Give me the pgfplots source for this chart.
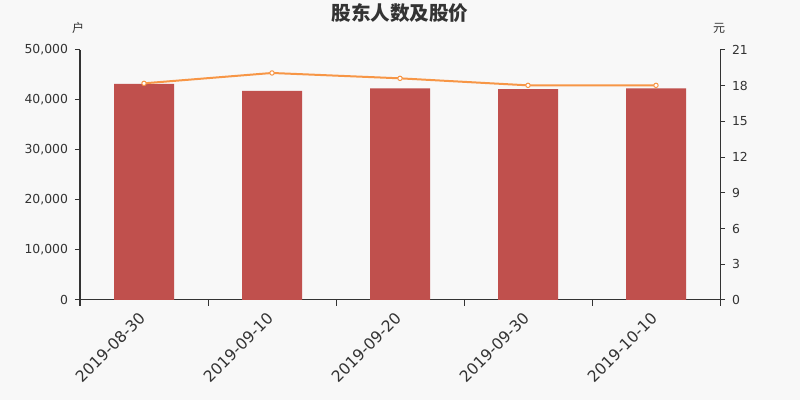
\documentclass[border=0pt]{standalone}
\usepackage{fontspec}
\setmainfont{DejaVu Sans}
\newfontfamily\cjk{Noto Sans CJK SC}
\usepackage{pgfplots}
\pgfplotsset{compat=1.18}
\definecolor{bg}{HTML}{F8F8F8}
\definecolor{barred}{HTML}{C0504D}
\definecolor{lineor}{HTML}{F79646}
\definecolor{axc}{HTML}{333333}
\begin{document}
\begin{tikzpicture}
\fill[bg] (-40pt,-50pt) rectangle (360pt,150pt);
\begin{axis}[
  at={(0,0)}, anchor=south west,
  scale only axis, width=320pt, height=125pt,
  xmin=-0.5, xmax=4.5, ymin=0, ymax=50000,
  axis x line*=bottom, axis y line*=left,
  axis line style={axc, line width=0.5pt, -},
  xtick={0,1,2,3,4},
  xticklabels={2019-08-30,2019-09-10,2019-09-20,2019-09-30,2019-10-10},
  minor xtick={-0.5,0.5,1.5,2.5,3.5,4.5},
  major x tick style={draw=none},
  minor tick length=3pt,
  tick align=outside,
  tick style={axc, line width=0.5pt},
  x tick label style={rotate=45, anchor=north east, font=\fontsize{7.8}{8}\selectfont, text=axc, inner sep=1pt, yshift=1pt, xshift=-3pt},
  ytick={0,10000,20000,30000,40000,50000},
  y tick label style={font=\fontsize{6.2}{7}\selectfont, text=axc},
  major tick length=2.5pt,
  scaled y ticks=false,
  /pgf/number format/assume math mode=true,
  yticklabel style={/pgf/number format/.cd, fixed, 1000 sep={,}},
  clip=false,
]
\addplot[ybar, bar width=30pt, fill=barred, draw=none] coordinates {
 (0,43200) (1,41800) (2,42300) (3,42150) (4,42300)};
\end{axis}
\begin{axis}[
  at={(0,0)}, anchor=south west,
  scale only axis, width=320pt, height=125pt,
  xmin=-0.5, xmax=4.5, ymin=0, ymax=21,
  axis x line=none, axis y line*=right,
  axis line style={axc, line width=0.5pt, -},
  ytick={0,3,6,9,12,15,18,21},
  tick align=outside,
  major tick length=2.5pt,
  tick style={axc, line width=0.5pt},
  y tick label style={font=\fontsize{6.2}{7}\selectfont, text=axc},
  /pgf/number format/assume math mode=true,
  clip=false,
]
\addplot[color=lineor, line width=1pt, mark=*, mark size=1.1pt, mark options={fill=white, draw=lineor, line width=0.5pt}] coordinates {
 (0,18.2) (1,19.07) (2,18.62) (3,18.03) (4,18.03)};
\end{axis}
\node[font=\cjk\bfseries\fontsize{9.8}{10}\selectfont, text=axc] at (160pt,143.5pt) {股东人数及股价};
\node[font=\cjk\fontsize{6}{7}\selectfont, text=axc] at (-1pt,136pt) {户};
\node[font=\cjk\fontsize{6}{7}\selectfont, text=axc] at (319.5pt,136pt) {元};
\pgfresetboundingbox
\useasboundingbox (-40pt,-50pt) rectangle (360pt,150pt);
\end{tikzpicture}
\end{document}
